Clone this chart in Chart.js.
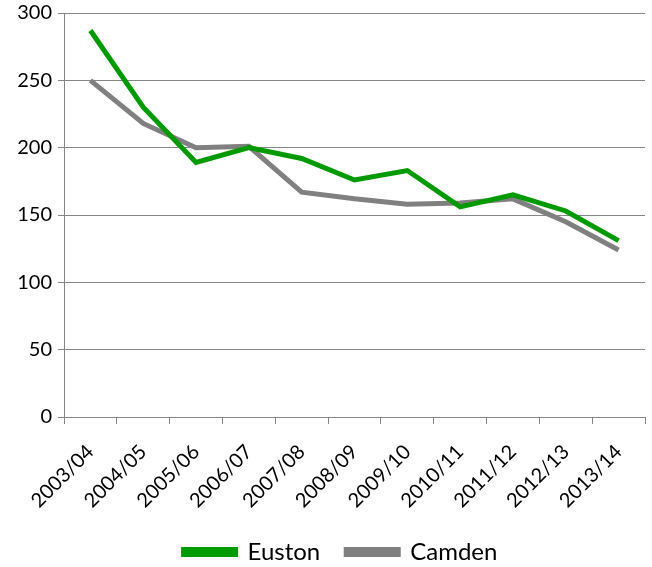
<!DOCTYPE html>
<html>
<head>
<meta charset="utf-8">
<script src="https://cdn.jsdelivr.net/npm/chart.js@4"></script>
<style>
  html, body { margin: 0; padding: 0; background: #fff; }
  #wrap { width: 652px; height: 567px; position: relative; }
</style>
</head>
<body>
<div id="wrap"><canvas id="lineChart"></canvas></div>
<script>
// Financial years
const years = ['2003/04', '2004/05', '2005/06', '2006/07', '2007/08', '2008/09',
               '2009/10', '2010/11', '2011/12', '2012/13', '2013/14'];
// Series values
const euston = [287, 230, 189, 200, 192, 176, 183, 156, 165, 153, 131];
const camden = [250, 218, 200, 201, 167, 162, 158, 159, 162, 145, 124];
// Y axis ticks
const yTicks = [0, 50, 100, 150, 200, 250, 300];

const FONT = 'Lato, "Open Sans", sans-serif';

// nudge the legend a bit to the right, like the original
const legendShift = {
    id: 'legendShift',
    afterLayout(chart) {
        chart.legend.left += 18;
        chart.legend.right += 18;
    }
};

document.addEventListener('DOMContentLoaded', () => {
    const ctx = document.getElementById('lineChart').getContext('2d');
    new Chart(ctx, {
        type: 'line',
        data: {
            labels: years,
            datasets: [{
                label: 'Euston',
                data: euston,
                borderColor: '#009900',
                backgroundColor: '#009900',
                borderWidth: 5,
                pointRadius: 0,
                tension: 0
            }, {
                label: 'Camden',
                data: camden,
                borderColor: '#808080',
                backgroundColor: '#808080',
                borderWidth: 5,
                pointRadius: 0,
                tension: 0
            }]
        },
        options: {
            responsive: true,
            maintainAspectRatio: false,
            animation: false,
            layout: { padding: { top: 13, right: 7, bottom: -7, left: 0 } },
            plugins: {
                tooltip: { enabled: false },
                legend: {
                    position: 'bottom',
                    labels: {
                        boxWidth: 52,
                        boxHeight: 5,
                        padding: 26,
                        color: '#000',
                        font: { family: FONT, size: 24 }
                    }
                }
            },
            scales: {
                x: {
                    offset: true,
                    grid: {
                        offset: true,
                        drawOnChartArea: false,
                        drawTicks: true,
                        tickLength: 7,
                        color: '#868686',
                        lineWidth: 1
                    },
                    border: { color: '#868686', width: 1 },
                    ticks: {
                        maxRotation: 45,
                        minRotation: 45,
                        color: '#000',
                        font: { family: FONT, size: 20 },
                        padding: 16
                    },
                    afterFit: (scale) => { scale.height = 97; }
                },
                y: {
                    min: 0,
                    max: 300,
                    afterBuildTicks: (scale) => {
                        scale.ticks = yTicks.map(v => ({ value: v }));
                    },
                    grid: {
                        color: '#868686',
                        lineWidth: 1,
                        tickLength: 6
                    },
                    border: { color: '#868686', width: 1 },
                    ticks: {
                        color: '#000',
                        font: { family: FONT, size: 20 },
                        padding: 6
                    },
                    afterFit: (scale) => {
                        scale.width = 64;
                        scale.paddingTop = 0;
                        scale.paddingBottom = 0;
                    }
                }
            }
        },
        plugins: [legendShift]
    });
});
</script>
</body>
</html>
